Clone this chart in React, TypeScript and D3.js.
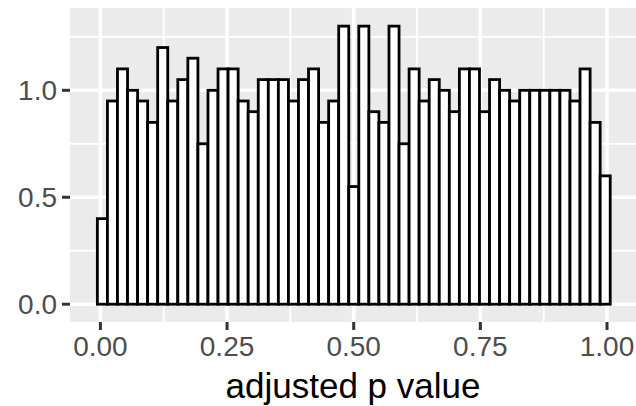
import React from "react";
import * as d3 from "d3";

// Histogram density values (51 bins), read left to right
const densities: number[] = [
  0.4, 0.95, 1.1, 1.0, 0.95, 0.85, 1.2, 0.95, 1.05, 1.15,
  0.75, 1.0, 1.1, 1.1, 0.95, 0.9, 1.05, 1.05, 1.05, 0.95,
  1.05, 1.1, 0.85, 0.95, 1.3, 0.55, 1.3, 0.9, 0.85, 1.3,
  0.75, 1.1, 0.95, 1.05, 1.0, 0.9, 1.1, 1.1, 0.9, 1.05,
  1.0, 0.95, 1.0, 1.0, 1.0, 1.0, 1.0, 0.95, 1.1, 0.85,
  0.6,
];
const binStart = -0.006;
const binWidth = 0.01985;

const xTicks: number[] = [0, 0.25, 0.5, 0.75, 1.0];
const xTickLabels: string[] = ["0.00", "0.25", "0.50", "0.75", "1.00"];
const xMinor: number[] = [0.125, 0.375, 0.625, 0.875];
const yTicks: number[] = [0, 0.5, 1.0];
const yTickLabels: string[] = ["0.0", "0.5", "1.0"];
const yMinor: number[] = [0.25, 0.75, 1.25];
const xTitle = "adjusted p value";

const W = 636;
const H = 406;
const panel = { left: 70, right: 636, top: 8, bottom: 322 };

export default function App() {
  const x = d3.scaleLinear().domain([0, 1]).range([100.4, 607]);
  const y = d3.scaleLinear().domain([0, 1]).range([304.2, 90.3]);
  const font = "'Liberation Sans', Arial, sans-serif";

  return (
    <svg
      width={W}
      height={H}
      style={{ position: "absolute", left: 0, top: 0, background: "#fff" }}
    >
      <rect
        x={panel.left}
        y={panel.top}
        width={panel.right - panel.left}
        height={panel.bottom - panel.top}
        fill="#EBEBEB"
      />
      {yMinor.map((v) => (
        <line key={"ym" + v} x1={panel.left} x2={panel.right} y1={y(v)} y2={y(v)} stroke="#fff" strokeWidth={1.8} />
      ))}
      {xMinor.map((v) => (
        <line key={"xm" + v} y1={panel.top} y2={panel.bottom} x1={x(v)} x2={x(v)} stroke="#fff" strokeWidth={1.8} />
      ))}
      {yTicks.map((v) => (
        <line key={"yM" + v} x1={panel.left} x2={panel.right} y1={y(v)} y2={y(v)} stroke="#fff" strokeWidth={3.6} />
      ))}
      {xTicks.map((v) => (
        <line key={"xM" + v} y1={panel.top} y2={panel.bottom} x1={x(v)} x2={x(v)} stroke="#fff" strokeWidth={3.6} />
      ))}
      {densities.map((d, i) => {
        const x0 = x(binStart + i * binWidth);
        const x1 = x(binStart + (i + 1) * binWidth);
        return (
          <rect
            key={"b" + i}
            x={x0}
            y={y(d)}
            width={x1 - x0}
            height={y(0) - y(d)}
            fill="#fff"
            stroke="#000"
            strokeWidth={2.8}
          />
        );
      })}
      {yTicks.map((v, i) => (
        <g key={"yt" + v}>
          <line x1={panel.left - 8} x2={panel.left} y1={y(v)} y2={y(v)} stroke="#333" strokeWidth={3} />
          <text
            x={panel.left - 13}
            y={y(v)}
            dy="0.35em"
            textAnchor="end"
            fontFamily={font}
            fontSize={28}
            fill="#4D4D4D"
          >
            {yTickLabels[i]}
          </text>
        </g>
      ))}
      {xTicks.map((v, i) => (
        <g key={"xt" + v}>
          <line x1={x(v)} x2={x(v)} y1={panel.bottom} y2={panel.bottom + 8} stroke="#333" strokeWidth={3} />
          <text
            x={x(v)}
            y={356}
            textAnchor="middle"
            fontFamily={font}
            fontSize={28}
            fill="#4D4D4D"
          >
            {xTickLabels[i]}
          </text>
        </g>
      ))}
      <text
        x={(panel.left + panel.right) / 2}
        y={398}
        textAnchor="middle"
        fontFamily={font}
        fontSize={35}
        fill="#000"
      >
        {xTitle}
      </text>
    </svg>
  );
}
